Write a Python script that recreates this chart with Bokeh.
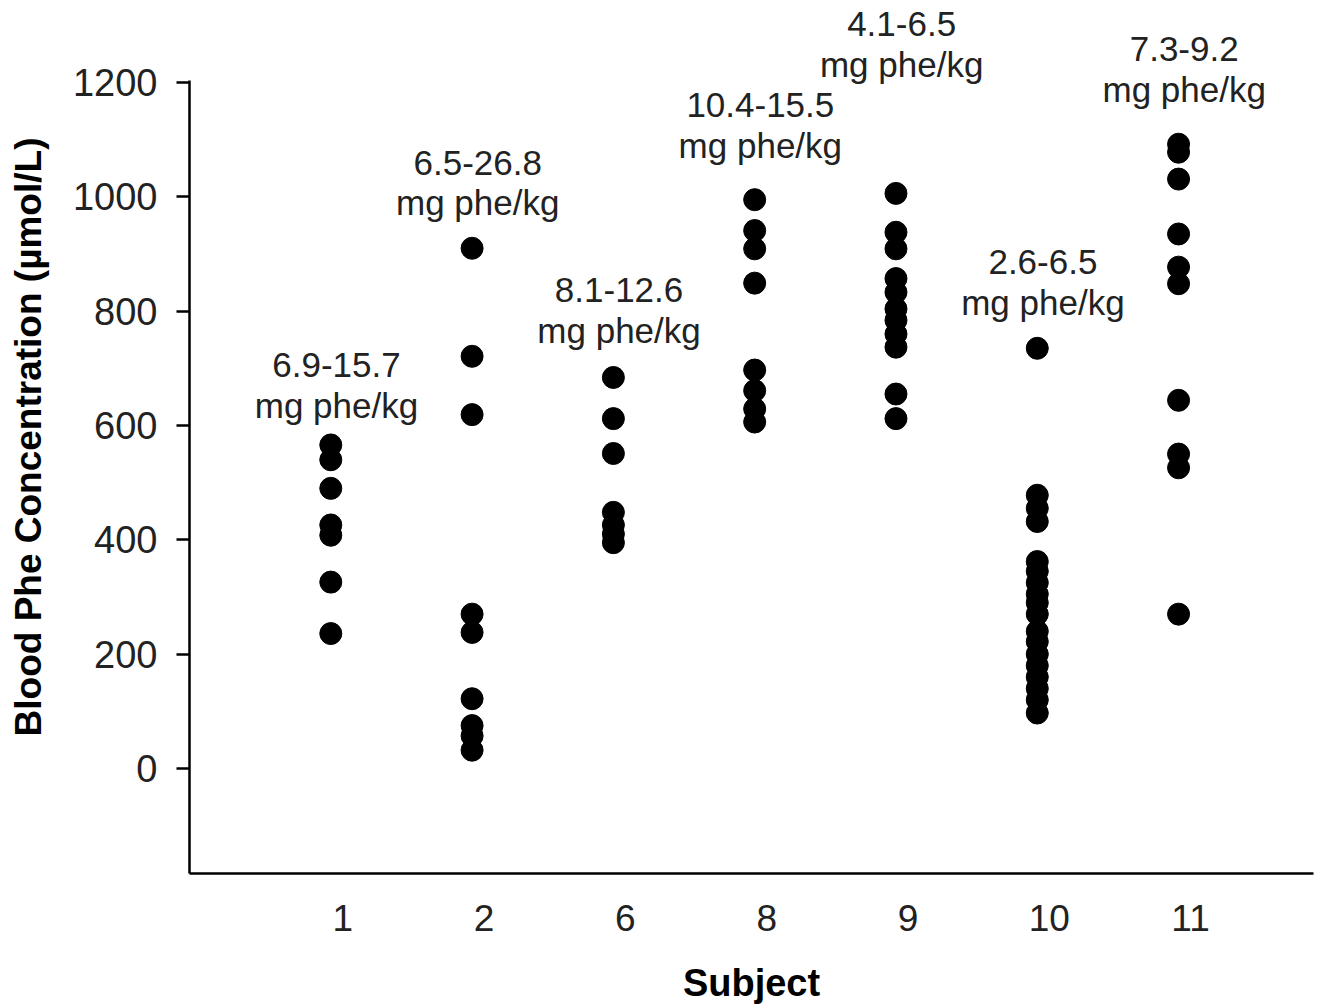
from bokeh.plotting import figure
from bokeh.models import FixedTicker, Range1d, ColumnDataSource, CustomJSTickFormatter
from bokeh.core.properties import value
from bokeh.embed import file_html
from bokeh.resources import INLINE

# ---- data ----
subjects = ["1", "2", "6", "8", "9", "10", "11"]
dose_labels = ["6.9-15.7\nmg phe/kg", "6.5-26.8\nmg phe/kg", "8.1-12.6\nmg phe/kg",
               "10.4-15.5\nmg phe/kg", "4.1-6.5\nmg phe/kg", "2.6-6.5\nmg phe/kg",
               "7.3-9.2\nmg phe/kg"]
phe_s1 = [566, 540, 490, 426, 408, 326, 236]
phe_s2 = [910, 721, 619, 270, 238, 122, 75, 57, 32]
phe_s6 = [684, 612, 551, 448, 426, 410, 395]
phe_s8 = [995, 941, 909, 849, 697, 661, 629, 606]
phe_s9 = [1006, 938, 909, 857, 833, 804, 784, 760, 737, 655, 612]
phe_s10 = [735, 478, 455, 432, 362, 345, 325, 305, 290, 270, 240, 222, 200, 180, 160, 140, 120, 97]
phe_s11 = [1092, 1078, 1031, 935, 877, 848, 644, 550, 526, 270]
y_ticks = [0, 200, 400, 600, 800, 1000, 1200]

series = [phe_s1, phe_s2, phe_s6, phe_s8, phe_s9, phe_s10, phe_s11]

# layout positions of the dose annotations (data units)
label_x_shift = 0.04
label_y = [671, 1025, 802, 1125, 1268, 851, 1223]

xs, ys = [], []
for i, vals in enumerate(series):
    xs += [i + 1] * len(vals)
    ys += vals
src = ColumnDataSource(dict(x=xs, y=ys))
lab_src = ColumnDataSource(dict(x=[i + 1 + label_x_shift for i in range(len(subjects))],
                                y=label_y, text=dose_labels))

FONT = "Liberation Sans"

p = figure(frame_width=1124, frame_height=873,
           x_range=Range1d(0, 7.955), y_range=Range1d(-183.7, 1343.4),
           output_backend="svg", toolbar_location=None,
           min_border_left=189, min_border_right=8, min_border_top=0, min_border_bottom=0)
p.outline_line_color = None
p.xgrid.visible = False
p.ygrid.visible = False
p.background_fill_color = "white"
p.border_fill_color = "white"

p.scatter("x", "y", source=src, size=22, color="black", line_color="black")
p.text("x", "y", text="text", source=lab_src, text_align="center", text_baseline="middle",
       text_font=value(FONT), text_font_size="35px", text_color="#222222", text_line_height=1.05)

# y axis
ya = p.yaxis[0]
ya.ticker = FixedTicker(ticks=y_ticks)
ya.bounds = (-183.7, 1204)
ya.axis_line_width = 2.5
ya.axis_line_color = "black"
ya.major_tick_out = 13
ya.major_tick_in = 0
ya.major_tick_line_width = 2.5
ya.minor_tick_out = 0
ya.minor_tick_in = 0
ya.major_label_standoff = 19
ya.major_label_text_font = FONT
ya.major_label_text_font_size = "38px"
ya.major_label_text_color = "#222222"
ya.axis_label = "Blood Phe Concentration (µmol/L)"
ya.axis_label_text_font = FONT
ya.axis_label_text_font_style = "bold"
ya.axis_label_text_font_size = "37px"
ya.axis_label_text_color = "black"
ya.axis_label_standoff = 21

# x axis
xa = p.xaxis[0]
xa.ticker = FixedTicker(ticks=[i + 1.085 for i in range(len(subjects))])
xa.formatter = CustomJSTickFormatter(args=dict(labels=subjects),
                                     code="return labels[Math.round(tick) - 1];")
xa.axis_line_width = 2.5
xa.axis_line_color = "black"
xa.major_tick_out = 0
xa.major_tick_in = 0
xa.minor_tick_out = 0
xa.minor_tick_in = 0
xa.major_label_standoff = 31
xa.major_label_text_font = FONT
xa.major_label_text_font_size = "37px"
xa.major_label_text_color = "#222222"
xa.axis_label = "Subject"
xa.axis_label_text_font = FONT
xa.axis_label_text_font_style = "bold"
xa.axis_label_text_font_size = "38px"
xa.axis_label_text_color = "black"
xa.axis_label_standoff = 28

open("out.html", "w").write(file_html(p, INLINE))
